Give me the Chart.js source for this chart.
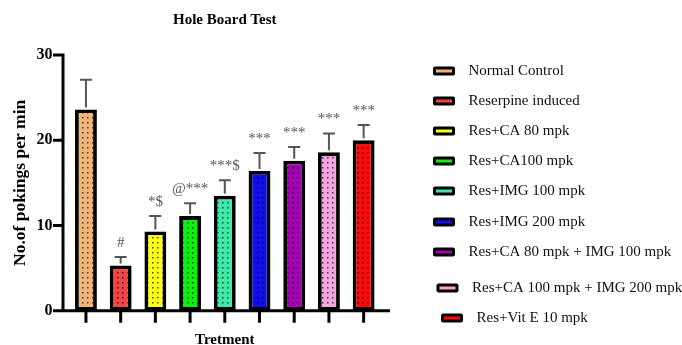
<!DOCTYPE html>
<html>
<head>
<meta charset="utf-8">
<script src="https://cdn.jsdelivr.net/npm/chart.js@4.4.1/dist/chart.umd.min.js"></script>
<style>
  html, body { margin: 0; padding: 0; background: #fff; }
  #wrap { width: 682px; height: 345px; position: relative; }
</style>
</head>
<body>
<div id="wrap"><canvas id="c" width="682" height="345"></canvas></div>
<script>
// Hole board test: pokings per minute for each treatment group (mean + SEM)
const groups = [
  'Normal Control',
  'Reserpine induced',
  'Res+CA 80 mpk',
  'Res+CA100 mpk',
  'Res+IMG 100 mpk',
  'Res+IMG 200 mpk',
  'Res+CA 80 mpk + IMG 100 mpk',
  'Res+CA 100 mpk + IMG 200 mpk',
  'Res+Vit E 10 mpk'
];
const means = [23.6, 5.3, 9.3, 11.1, 13.5, 16.4, 17.6, 18.6, 20.0];
const sem = [3.5, 1.0, 1.8, 1.5, 1.8, 2.1, 1.6, 2.2, 1.8];
const significance = ['', '#', '*$', '@***', '***$', '***', '***', '***', '***'];
const yTicks = [0, 10, 20, 30];

const colors = ['#F3B577', '#F04343', '#FFFF14', '#10EE10', '#3EEAAA', '#1010EE', '#A500B5', '#F4A6E0', '#FF0A0A'];
const SERIF = '"Liberation Serif", "Times New Roman", serif';

// dotted fill: flat colour with a small dark dot in each 5x5 cell
function dotted(color) {
  const c = document.createElement('canvas');
  c.width = 5; c.height = 5;
  const g = c.getContext('2d');
  g.fillStyle = color;
  g.fillRect(0, 0, 5, 5);
  g.fillStyle = 'rgba(0,0,0,0.7)';
  g.fillRect(2, 2, 1.5, 1.5);
  return g.createPattern(c, 'repeat');
}

// legend rows: vertical offsets and small indents of each entry
const legendRows = [0, 30, 60, 90, 120, 151, 181, 217, 247];
const legendIndent = [0, 0, 0, 0, 0, 0, 0, 3.5, 8];

const decor = {
  id: 'decor',
  afterDatasetsDraw(chart) {
    const { ctx, chartArea } = chart;
    const xs = chart.scales.x, ys = chart.scales.y;
    const y0 = ys.getPixelForValue(0);
    const axisX = chartArea.left - 5.6;
    const axisEnd = chartArea.right + 9;
    ctx.save();

    // error bars (upper half only)
    ctx.strokeStyle = '#555';
    ctx.lineWidth = 2;
    means.forEach((m, i) => {
      const x = xs.getPixelForValue(i);
      const yt = ys.getPixelForValue(m);
      const ye = ys.getPixelForValue(m + sem[i]);
      ctx.beginPath();
      ctx.moveTo(x, yt - 2);
      ctx.lineTo(x, ye);
      ctx.moveTo(x - 6, ye);
      ctx.lineTo(x + 6, ye);
      ctx.stroke();
    });

    // significance marks above the error bars
    ctx.fillStyle = '#555';
    ctx.font = '15px ' + SERIF;
    ctx.textAlign = 'center';
    ctx.textBaseline = 'alphabetic';
    significance.forEach((s, i) => {
      if (!s) return;
      const x = xs.getPixelForValue(i);
      const ye = ys.getPixelForValue(means[i] + sem[i]);
      ctx.fillText(s, x, ye - 10);
    });

    // axes
    ctx.strokeStyle = '#000';
    ctx.lineWidth = 3;
    ctx.lineCap = 'butt';
    ctx.beginPath();
    ctx.moveTo(axisX, ys.getPixelForValue(30) - 1.5);
    ctx.lineTo(axisX, y0 + 1.5);
    ctx.moveTo(axisX - 1.5, y0);
    ctx.lineTo(axisEnd, y0);
    yTicks.forEach(v => {
      const y = ys.getPixelForValue(v);
      ctx.moveTo(axisX - 10, y);
      ctx.lineTo(axisX, y);
    });
    means.forEach((m, i) => {
      const x = xs.getPixelForValue(i);
      ctx.moveTo(x, y0);
      ctx.lineTo(x, y0 + 12);
    });
    ctx.stroke();

    // chart title
    ctx.fillStyle = '#000';
    ctx.font = 'bold 15px ' + SERIF;
    ctx.textAlign = 'center';
    ctx.textBaseline = 'middle';
    ctx.fillText('Hole Board Test', (chartArea.left + chartArea.right) / 2, 20);

    // legend
    const lx = chartArea.right + 52, ly = chartArea.top + 16;
    ctx.font = '15px ' + SERIF;
    ctx.textAlign = 'left';
    ctx.textBaseline = 'middle';
    groups.forEach((g, i) => {
      const sx = lx + legendIndent[i];
      const cy = ly + legendRows[i];
      ctx.fillStyle = '#000';
      ctx.beginPath();
      ctx.roundRect(sx, cy - 4.5, 22, 9, 2);
      ctx.fill();
      ctx.fillStyle = colors[i];
      ctx.fillRect(sx + 3, cy - 1.5, 16, 3);
      ctx.fillStyle = '#111';
      ctx.fillText(g, sx + 35.5, cy);
    });
    ctx.restore();
  }
};

new Chart(document.getElementById('c'), {
  type: 'bar',
  data: {
    labels: groups,
    datasets: [{
      data: means,
      backgroundColor: colors.map(dotted),
      borderColor: '#000',
      borderWidth: 3.8,
      borderSkipped: false,
      barPercentage: 0.63,
      categoryPercentage: 1
    }]
  },
  options: {
    responsive: false,
    animation: false,
    devicePixelRatio: 1,
    layout: { padding: { left: 0, right: 301, top: 55, bottom: 0 } },
    plugins: { legend: { display: false }, tooltip: { enabled: false }, title: { display: false } },
    scales: {
      x: {
        grid: { display: false, drawTicks: false },
        border: { display: false },
        ticks: { display: false },
        title: {
          display: true, text: 'Tretment', color: '#000',
          padding: { top: 0, bottom: -4 },
          font: { family: SERIF, size: 15, weight: 'bold' }
        },
        afterFit(s) { s.height = 34.3; }
      },
      y: {
        min: 0, max: 30,
        afterBuildTicks(s) { s.ticks = yTicks.map(v => ({ value: v })); },
        grid: { display: false, drawTicks: false },
        border: { display: false },
        ticks: { padding: 16, color: '#000', font: { family: SERIF, size: 16, weight: 'bold' } },
        title: {
          display: true, text: 'No.of pokings per min', color: '#000',
          padding: { top: 9.5, bottom: 0 },
          font: { family: SERIF, size: 17.5, weight: 'bold' }
        },
        afterFit(s) { s.width = 68.6; }
      }
    }
  },
  plugins: [decor]
});
</script>
</body>
</html>
